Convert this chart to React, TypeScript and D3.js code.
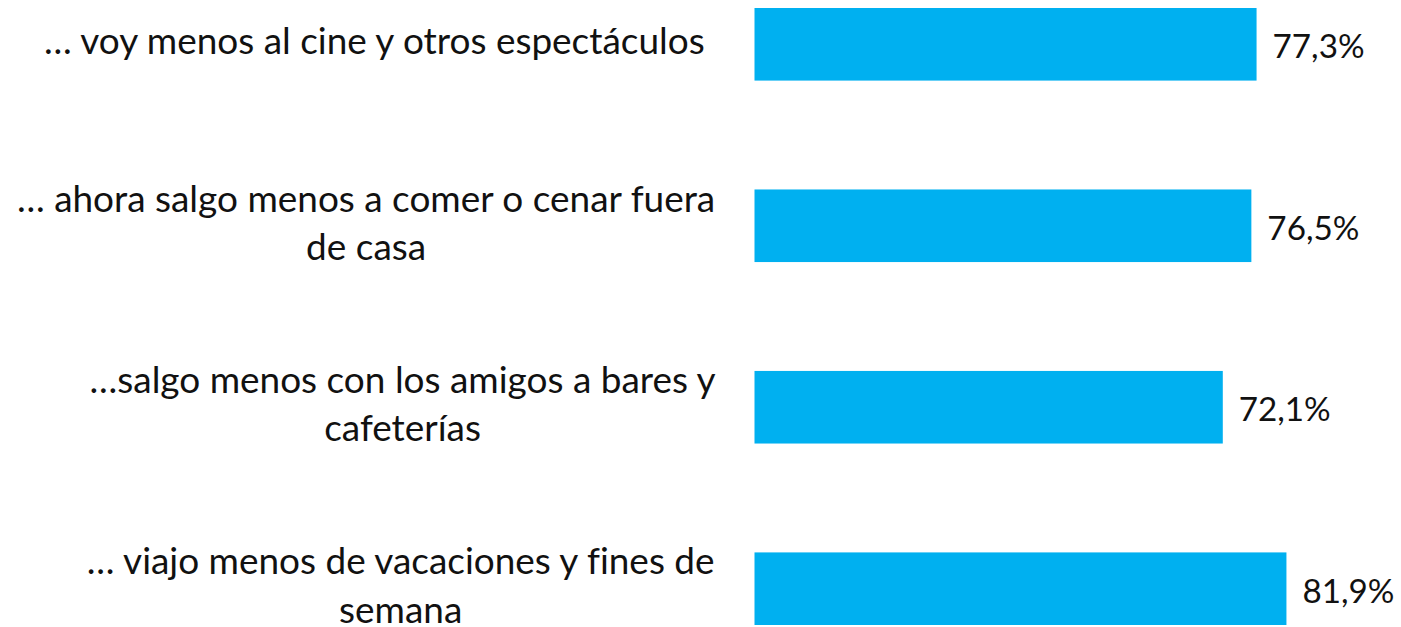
import React, { useMemo } from "react";
import * as d3 from "d3";

const categories: string[][] = [
  ["… voy menos al cine y otros espectáculos\u00a0"],
  ["… ahora salgo menos a comer o cenar fuera", "de casa"],
  ["…salgo menos con los amigos a bares y", "cafeterías"],
  ["… viajo menos de vacaciones y fines de", "semana"],
];
const values: number[] = [77.3, 76.5, 72.1, 81.9];
const valueLabels: string[] = ["77,3%", "76,5%", "72,1%", "81,9%"];

const W = 1401;
const H = 627;
const FONT = "Lato, 'Open Sans', sans-serif";
const BAR_COLOR = "#00B0F0";

function measure(text: string, size: number): number {
  const c = document.createElement("canvas");
  const ctx = c.getContext("2d")!;
  ctx.font = `${size}px Lato`;
  return ctx.measureText(text).width;
}

export default function App() {
  const ids = categories.map((_, i) => String(i));
  const y = d3.scaleBand<string>().domain(ids).range([8, 625]).paddingInner(0.6).paddingOuter(0);
  const x = d3.scaleLinear().domain([0, 100]).range([754.5, 1404]);

  const fontSize = useMemo(() => {
    const w = measure("… ahora salgo menos a comer o cenar fuera", 100);
    return (700 / w) * 100;
  }, []);
  const valueSize = useMemo(() => {
    const w = measure("77,3%", 100);
    return (92 / w) * 100;
  }, []);

  const labelRight = 716;
  const lineGap = 48.5;
  const textStyle = { fontVariantLigatures: "none" as const };

  return (
    <div style={{ position: "absolute", left: 0, top: 0 }}>
      <svg width={W} height={H} style={{ display: "block", background: "#fff" }}>
        <rect x={0} y={0} width={W} height={H} fill="#fff" />
        {categories.map((lines, i) => {
          const id = ids[i];
          const cy = (y(id) as number) + y.bandwidth() / 2;
          const blockW = Math.max(...lines.map((l) => measure(l, fontSize)));
          const cx = labelRight - blockW / 2;
          return (
            <g key={id}>
              <rect
                x={x(0)}
                y={y(id)}
                width={x(values[i]) - x(0)}
                height={y.bandwidth()}
                fill={BAR_COLOR}
              />
              {lines.map((l, j) => (
                <text
                  key={j}
                  x={cx}
                  y={cy + 10 + (j - (lines.length - 1) / 2) * lineGap}
                  textAnchor="middle"
                  fontFamily={FONT}
                  fontSize={fontSize}
                  fill="#111"
                  style={textStyle}
                >
                  {l}
                </text>
              ))}
              <text
                x={x(values[i]) + 16}
                y={cy + 14}
                fontFamily={FONT}
                fontSize={valueSize}
                fill="#111"
                style={textStyle}
              >
                {valueLabels[i]}
              </text>
            </g>
          );
        })}
      </svg>
    </div>
  );
}
